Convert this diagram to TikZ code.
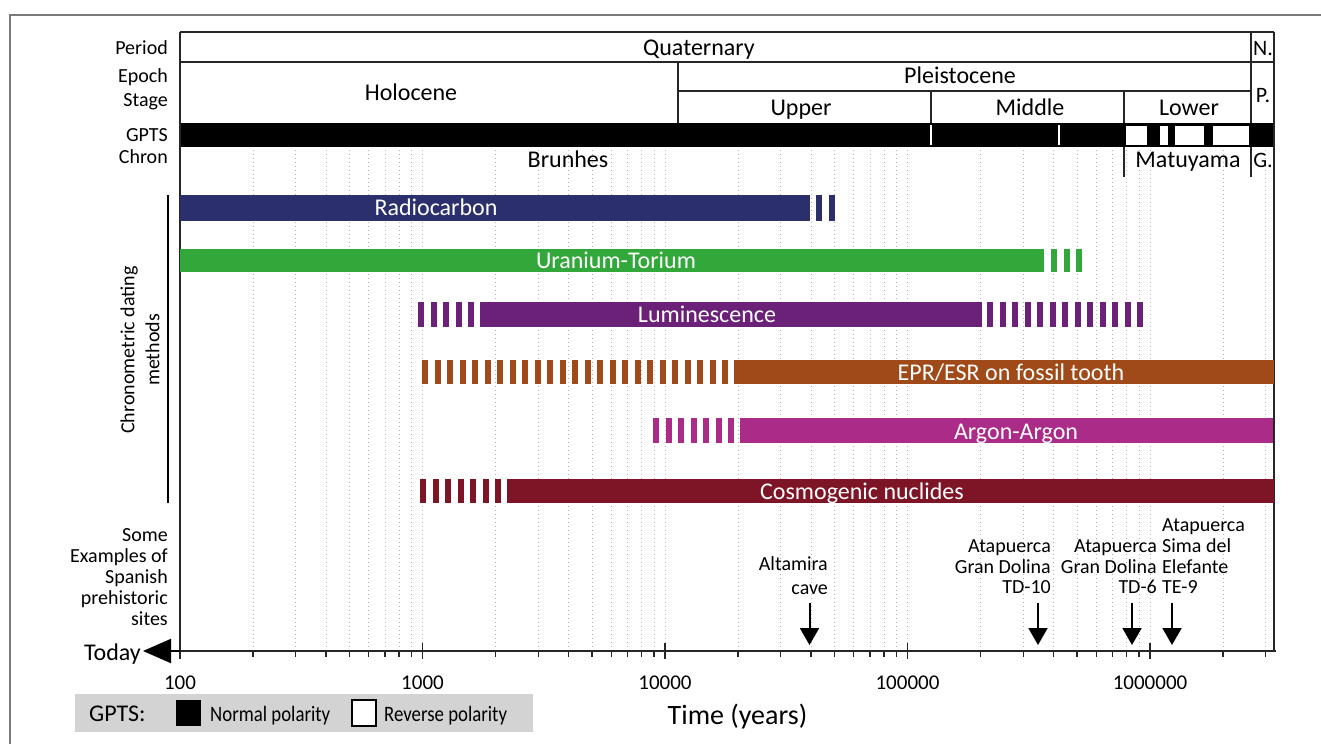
\documentclass[tikz,border=0pt]{standalone}
\usepackage{fontspec}
\setmainfont{Carlito}
\usepackage{graphicx}
\usetikzlibrary{arrows.meta}
\definecolor{cNavy}{HTML}{2B2F6B}
\definecolor{cGreen}{HTML}{33A83A}
\definecolor{cPurple}{HTML}{6B2178}
\definecolor{cBrown}{HTML}{9F4A18}
\definecolor{cMagenta}{HTML}{AB2B88}
\definecolor{cDarkRed}{HTML}{7E1527}
\definecolor{cLegend}{HTML}{D3D3D3}
\definecolor{cFrame}{HTML}{7A7A7A}
\newcommand\myfs[1]{\fontsize{#1}{#1}\selectfont}
\newcommand\dashrun[5]{% colour, first x, count, top y, bottom y
  \foreach \i in {1,...,#3}{\fill[#1] ({#2+12.5*(\i-1)},#4) rectangle ({#2+12.5*(\i-1)+6.3},#5);}}
\begin{document}
\begin{tikzpicture}[x=1pt,y=-1pt,
  hdr/.style={font=\myfs{24}, inner sep=0, anchor=base},
  rowlbl/.style={font=\myfs{20}, inner sep=0, anchor=base east},
  barlbl/.style={font=\myfs{24}, text=white, inner sep=0, anchor=base},
  sitel/.style={font=\myfs{20}, inner sep=0, anchor=base east},
  siter/.style={font=\myfs{20}, inner sep=0, anchor=base west},
  axlbl/.style={font=\myfs{21}, inner sep=0, anchor=base},
  gridln/.style={draw=black!30, line width=0.8pt, dash pattern=on 0.8pt off 3.2pt},
  boxln/.style={draw=black!85, line width=1.5pt},
  sitearrow/.style={line width=2pt, -{Triangle[width=19pt,length=17pt]}},
  legtxt/.style={font=\myfs{22}, inner sep=0, anchor=base west}]
\useasboundingbox (0,0) rectangle (1321,744);
% outer frame
\draw[cFrame, line width=1.5pt] (10,744) -- (10,15) -- (1321,15);
% grid lines
\foreach \k in {0,...,4}{
  \foreach \m in {1,...,9}{
    \pgfmathsetmacro\gx{180+242.5*(\k+log10(\m))}
    \pgfmathtruncatemacro\ok{and(\gx>181,\gx<1272)}
    \ifnum\ok=1 \draw[gridln] (\gx,150) -- (\gx,648);\fi
  }}
% header table
\draw[boxln, line width=2.2pt] (180,32) -- (1274,32);
\draw[boxln] (180,62) -- (1274,62);
\draw[boxln] (678,62) -- (678,123);
\draw[boxln] (678,91) -- (1251,91);
\draw[boxln] (931,91) -- (931,123);
\draw[boxln] (1124,91) -- (1124,177);
\draw[boxln] (1251,32) -- (1251,177);
% GPTS bar
\fill[black] (180,123) rectangle (1274,147);
\fill[white] (1126,126) rectangle (1147,145);
\fill[white] (1160,126) rectangle (1168,145);
\fill[white] (1175,126) rectangle (1204,145);
\fill[white] (1213,126) rectangle (1249,145);
\draw[white, line width=1.5pt] (931,125) -- (931,145);
\draw[white, line width=1.5pt] (1059,125) -- (1059,145);
% main verticals
\draw[boxln, line width=1.8pt] (180,32) -- (180,659);
\draw[boxln, line width=1.8pt] (1274,32) -- (1274,651);
% row labels
\node[rowlbl] (lPeriod) at (168,54) {Period};
\node[rowlbl] (lEpoch) at (168,82) {Epoch};
\node[rowlbl] (lStage) at (168,106) {Stage};
\node[rowlbl] (lGPTS) at (168,141) {GPTS};
\node[rowlbl] (lChron) at (168,163) {Chron};
% header texts
\node[hdr] (tQuat) at (699,55) {Quaternary};
\node[hdr] (tHolo) at (411,100) {Holocene};
\node[hdr] (tPleist) at (960,83) {Pleistocene};
\node[hdr] (tUpper) at (801,115) {Upper};
\node[hdr] (tMiddle) at (1030,115) {Middle};
\node[hdr] (tLower) at (1189,115) {Lower};
\node[hdr, font=\myfs{22}] (tN) at (1263,55) {N.};
\node[hdr, font=\myfs{22}] (tP) at (1263,102) {P.};
\node[hdr, font=\myfs{22}] (tG) at (1263,167) {G.};
\node[hdr] (tBrun) at (568,167) {Brunhes};
\node[hdr] (tMatu) at (1188,167) {Matuyama};
% dating bars
\fill[cNavy] (180,195) rectangle (810,221);
\dashrun{cNavy}{816}{2}{195}{221}
\node[barlbl] (bRadio) at (436,215.5) {Radiocarbon};
\fill[cGreen] (180,249) rectangle (1044,272);
\dashrun{cGreen}{1051}{3}{249}{272}
\node[barlbl] (bUTh) at (616,268) {Uranium-Torium};
\dashrun{cPurple}{418}{5}{302}{327}
\fill[cPurple] (480,302) rectangle (982,327);
\dashrun{cPurple}{987}{13}{302}{327}
\node[barlbl] (bLum) at (707,322) {Luminescence};
\dashrun{cBrown}{422}{25}{360}{384}
\fill[cBrown] (734,360) rectangle (1274,384);
\node[barlbl] (bEPR) at (1011,380) {EPR/ESR on fossil tooth};
\dashrun{cMagenta}{653}{7}{418}{443}
\fill[cMagenta] (740,418) rectangle (1273,443);
\node[barlbl] (bAr) at (1016,439) {Argon-Argon};
\dashrun{cDarkRed}{420}{7}{479}{503}
\fill[cDarkRed] (507,479) rectangle (1274,503);
\node[barlbl] (bCosmo) at (862,499) {Cosmogenic nuclides};
% bracket and label
\draw[black, line width=2pt] (168,195) -- (168,503);
\node[font=\fontsize{20}{25}\selectfont, align=center, rotate=90, inner sep=0] (lChrono) at (140,350) {Chronometric dating\\methods};
% left site label
\node[rowlbl] (lS1) at (168,541) {Some};
\node[rowlbl] (lS2) at (168,562) {Examples of};
\node[rowlbl] (lS3) at (168,583) {Spanish};
\node[rowlbl] (lS4) at (168,604) {prehistoric};
\node[rowlbl] (lS5) at (168,625) {sites};
% sites
\node[sitel] (alt1) at (828,570) {Altamira};
\node[sitel] (alt2) at (828,594) {cave};
\node[sitel] (td10a) at (1051,552) {Atapuerca};
\node[sitel] (td10b) at (1051,573) {Gran Dolina};
\node[sitel] (td10c) at (1051,593) {TD-10};
\node[sitel] (td6a) at (1157,552) {Atapuerca};
\node[sitel] (td6b) at (1157,573) {Gran Dolina};
\node[sitel] (td6c) at (1157,593) {TD-6};
\node[siter] (te9a) at (1162,531) {Atapuerca};
\node[siter] (te9b) at (1162,552) {Sima del};
\node[siter] (te9c) at (1162,573) {Elefante};
\node[siter] (te9d) at (1162,593) {TE-9};
\coordinate (aAltS) at (809.5,603); \coordinate (aAltE) at (809.5,645);
\coordinate (aTDtS) at (1038,603); \coordinate (aTDtE) at (1038,645);
\coordinate (aTDsS) at (1132,603); \coordinate (aTDsE) at (1132,645);
\coordinate (aTES) at (1172,603); \coordinate (aTEE) at (1172,645);
\draw[sitearrow] (aAltS) -- (aAltE);
\draw[sitearrow] (aTDtS) -- (aTDtE);
\draw[sitearrow] (aTDsS) -- (aTDsE);
\draw[sitearrow] (aTES) -- (aTEE);
% axis
\coordinate (axL) at (180,651); \coordinate (axR) at (1276,651);
\draw[black!85, line width=2pt] (axL) -- (axR);
\foreach \k in {0,...,4}{
  \foreach \m in {1,...,9}{
    \pgfmathsetmacro\gx{180+242.5*(\k+log10(\m))}
    \pgfmathtruncatemacro\ok{and(\gx>181,\gx<1272)}
    \ifnum\ok=1
      \ifnum\m=1 \draw[black!85, line width=1.6pt] (\gx,643) -- (\gx,659);
      \else \draw[black!85, line width=1.3pt] (\gx,651) -- (\gx,657);\fi
    \fi
  }}
\node[axlbl] (x100) at (180,689) {100};
\node[axlbl] (x1e3) at (422.5,689) {1000};
\node[axlbl] (x1e4) at (665,689) {10000};
\node[axlbl] (x1e5) at (907.5,689) {100000};
\node[axlbl] (x1e6) at (1150,689) {1000000};
\node[font=\myfs{28}, inner sep=0, anchor=base] (xTitle) at (737.5,724) {Time (years)};
% today
\node[font=\myfs{24}, inner sep=0, anchor=base east] (today) at (141,660) {Today};
\coordinate (todayTip) at (143,651);
\draw[line width=2pt, -{Triangle[width=24pt,length=28pt]}] (axL) -- (todayTip);
% legend
\fill[cLegend] (75,694) rectangle (533,732);
\node[legtxt, font=\myfs{24}] (legG) at (89,721) {GPTS:};
\fill[black] (176,700) rectangle (201,726);
\node[legtxt] (legN) at (210,721) {\scalebox{0.855}[1]{Normal polarity}};
\draw[black, line width=1.5pt, fill=white] (352,700) rectangle (376,726);
\node[legtxt] (legR) at (384,721) {\scalebox{0.855}[1]{Reverse polarity}};
\end{tikzpicture}
\end{document}
